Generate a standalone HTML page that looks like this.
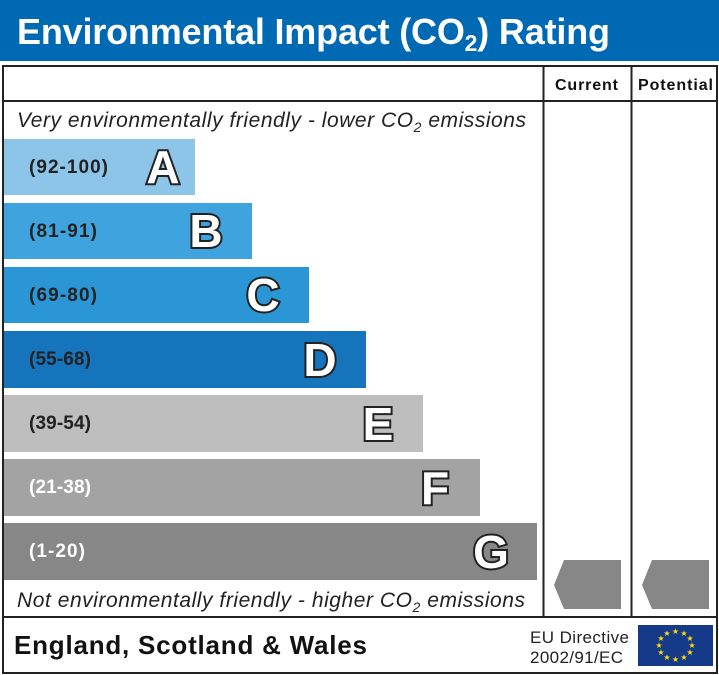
<!DOCTYPE html>
<html><head><style>
body{margin:0;background:#fff}
svg{display:block}
text{font-family:"Liberation Sans",Arial,sans-serif}
.L{font-size:46px;font-weight:bold;fill:#fff;stroke:#222;stroke-width:4;paint-order:stroke;text-anchor:middle}
.r{font-size:19px;font-weight:bold}
</style></head><body>
<svg width="719" height="675" xmlns="http://www.w3.org/2000/svg">
<rect x="0" y="0" width="719" height="61" fill="#0069b3"/>
<text x="17" y="44" font-size="36" font-weight="bold" fill="#fff" textLength="593" lengthAdjust="spacing">Environmental Impact (CO<tspan font-size="23" dy="7">2</tspan><tspan dy="-7">) Rating</tspan></text>
<rect x="3" y="66" width="714" height="607" fill="none" stroke="#222" stroke-width="2"/>
<line x1="3" y1="101" x2="717" y2="101" stroke="#222" stroke-width="2"/>
<line x1="543.5" y1="66" x2="543.5" y2="617" stroke="#222" stroke-width="2"/>
<line x1="631.5" y1="66" x2="631.5" y2="617" stroke="#222" stroke-width="2"/>
<line x1="3" y1="617" x2="717" y2="617" stroke="#222" stroke-width="2"/>
<text x="555" y="90" font-size="16" font-weight="bold" fill="#111" textLength="63" lengthAdjust="spacing">Current</text>
<text x="638" y="90" font-size="16" font-weight="bold" fill="#111" textLength="75" lengthAdjust="spacing">Potential</text>
<text x="17" y="127" font-size="21" font-style="italic" fill="#222" textLength="509" lengthAdjust="spacing">Very environmentally friendly - lower CO<tspan font-size="14" dy="5">2</tspan><tspan dy="-5"> emissions</tspan></text>
<text x="17" y="607" font-size="21" font-style="italic" fill="#222" textLength="508" lengthAdjust="spacing">Not environmentally friendly - higher CO<tspan font-size="14" dy="5">2</tspan><tspan dy="-5"> emissions</tspan></text>
<rect x="4" y="139" width="191" height="56" fill="#8cc5e8"/>
<text class="r" x="29" y="173" fill="#222" textLength="79" lengthAdjust="spacing">(92-100)</text>
<text class="L" x="163" y="183">A</text>
<rect x="4" y="203" width="248" height="56" fill="#3fa3dd"/>
<text class="r" x="29" y="237" fill="#222" textLength="68" lengthAdjust="spacing">(81-91)</text>
<text class="L" x="206" y="247">B</text>
<rect x="4" y="267" width="305" height="56" fill="#2b96d5"/>
<text class="r" x="29" y="301" fill="#222" textLength="68" lengthAdjust="spacing">(69-80)</text>
<text class="L" x="263" y="311">C</text>
<rect x="4" y="331" width="362" height="57" fill="#1574bb"/>
<text class="r" x="29" y="365" fill="#222" textLength="62" lengthAdjust="spacing">(55-68)</text>
<text class="L" x="320" y="376">D</text>
<rect x="4" y="395" width="419" height="57" fill="#bebebe"/>
<text class="r" x="29" y="429" fill="#222" textLength="62" lengthAdjust="spacing">(39-54)</text>
<text class="L" x="378" y="440">E</text>
<rect x="4" y="459" width="476" height="57" fill="#a3a3a3"/>
<text class="r" x="29" y="493" fill="#fff" textLength="62" lengthAdjust="spacing">(21-38)</text>
<text class="L" x="435" y="504">F</text>
<rect x="4" y="523" width="533" height="57" fill="#878787"/>
<text class="r" x="29" y="557" fill="#fff" textLength="56" lengthAdjust="spacing">(1-20)</text>
<text class="L" x="491" y="568">G</text>
<polygon points="554,585 564,560 621,560 621,609 564,609" fill="#878787"/>
<polygon points="642,585 652,560 709,560 709,609 652,609" fill="#878787"/>
<text x="14" y="654" font-size="26" font-weight="bold" fill="#111" textLength="353" lengthAdjust="spacing">England, Scotland &amp; Wales</text>
<text x="530" y="643" font-size="17" fill="#222" textLength="99" lengthAdjust="spacing">EU Directive</text>
<text x="530" y="663" font-size="17" fill="#222" textLength="93" lengthAdjust="spacing">2002/91/EC</text>
<rect x="638" y="625" width="75" height="41" fill="#153a8a"/>
<g fill="#ffdd00" font-size="8" text-anchor="middle">
<text x="675.5" y="634">★</text><text x="684" y="636">★</text><text x="690" y="641">★</text>
<text x="692" y="648">★</text><text x="690" y="655">★</text><text x="684" y="660">★</text>
<text x="675.5" y="662">★</text><text x="667" y="660">★</text><text x="661" y="655">★</text>
<text x="659" y="648">★</text><text x="661" y="641">★</text><text x="667" y="636">★</text>
</g>
</svg>
</body></html>
